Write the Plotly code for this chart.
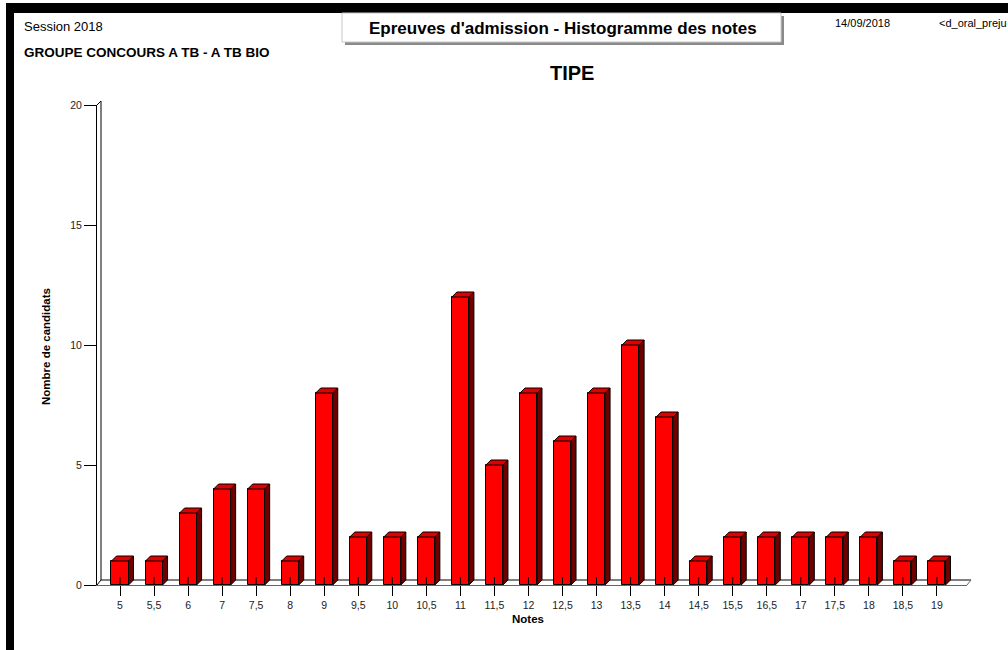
import plotly.graph_objects as go

# notes and number of candidates per note
notes = ['5', '5,5', '6', '7', '7,5', '8', '9', '9,5', '10', '10,5', '11', '11,5', '12',
         '12,5', '13', '13,5', '14', '14,5', '15,5', '16,5', '17', '17,5', '18', '18,5', '19']
candidats = [1, 1, 3, 4, 4, 1, 8, 2, 2, 2, 12, 5, 8, 6, 8, 10, 7, 1, 2, 2, 2, 2, 2, 1, 1]
y_ticks = [0, 5, 10, 15, 20]

W, H = 1008, 650
L, R, T, B = 97, 41, 105, 65
FONT = 'Arial, Liberation Sans, sans-serif'

def px(x):
    return (x - L) / (W - L - R)

def py(y):
    return (H - B - y) / (H - T - B)

idx = list(range(len(notes)))
step = 34.04
xmin = (L - 120) / step
xmax = (W - R - 120) / step
half = 0.25
dx = 5 / step
dy = 5 / 24.0

# 3D side / top faces built from the data
side_x, side_y, top_x, top_y = [], [], [], []
for i, v in zip(idx, candidats):
    side_x += [i + half, i + half + dx, i + half + dx, i + half, i + half, None]
    side_y += [0, dy, v + dy, v, 0, None]
    top_x += [i - half, i - half + dx, i + half + dx, i + half, i - half, None]
    top_y += [v, v + dy, v + dy, v, v, None]

tick_x, tick_y = [], []
for i in idx:
    tick_x += [i, i, None]
    tick_y += [0, 8 / 24.0, None]

fig = go.Figure()
fig.add_trace(go.Bar(x=idx, y=candidats, width=2 * half,
                     marker=dict(color='#ff0000', line=dict(color='black', width=1))))
fig.add_trace(go.Scatter(x=side_x, y=side_y, mode='lines', fill='toself',
                         fillcolor='#6e0000', line=dict(color='black', width=1)))
fig.add_trace(go.Scatter(x=top_x, y=top_y, mode='lines', fill='toself',
                         fillcolor='#e00000', line=dict(color='black', width=1)))
fig.add_trace(go.Scatter(x=tick_x, y=tick_y, mode='lines',
                         line=dict(color='black', width=1)))

shapes = []
# black frame
shapes.append(dict(type='rect', xref='paper', yref='paper', x0=px(6), x1=px(1010),
                   y0=py(3), y1=py(13), fillcolor='black', line=dict(width=0)))
shapes.append(dict(type='rect', xref='paper', yref='paper', x0=px(6), x1=px(14),
                   y0=py(3), y1=py(652), fillcolor='black', line=dict(width=0)))
# header box
shapes.append(dict(type='rect', xref='paper', yref='paper', x0=px(345), x1=px(784),
                   y0=py(16), y1=py(45), fillcolor='#8a8a8a', line=dict(width=0)))
shapes.append(dict(type='rect', xref='paper', yref='paper', x0=px(342), x1=px(781),
                   y0=py(13), y1=py(42), fillcolor='white', line=dict(color='#c8c8c8', width=1)))
# 3D wall and floor (behind the bars)
line = dict(color='black', width=1)
for x0, x1, y0, y1, c in [(101, 101, 580, 101, 'black'), (97, 101, 105, 101, 'black'),
                          (97, 101, 585, 580, 'black'), (101, 971, 580, 580, 'black'),
                          (967, 971, 585, 580, '#666')]:
    shapes.append(dict(type='line', xref='paper', yref='paper', layer='below',
                       x0=px(x0), x1=px(x1), y0=py(y0), y1=py(y1),
                       line=dict(color=c, width=1)))

ann = []
def text(x, y, s, size, bold=False, xanchor='left', angle=0, color='black'):
    if bold:
        s = '<b>' + s + '</b>'
    ann.append(dict(xref='paper', yref='paper', x=px(x), y=py(y), text=s, showarrow=False,
                    xanchor=xanchor, yanchor='middle', textangle=angle,
                    font=dict(family=FONT, size=size, color=color)))

text(22, 27, 'Session 2018', 13)
text(22, 52, 'GROUPE CONCOURS A TB - A TB BIO', 13.5, bold=True)
text(563, 28, "Epreuves d'admission - Histogramme des notes", 17, bold=True, xanchor='center')
text(833, 23, '14/09/2018', 11)
text(937, 23, '<d_oral_preju', 11)
text(572, 73, 'TIPE', 20, bold=True, xanchor='center')
text(46, 347, 'Nombre de candidats', 11.5, bold=True, xanchor='center', angle=-90)
text(528, 619, 'Notes', 11.5, bold=True, xanchor='center')

fig.update_layout(
    width=W, height=H,
    margin=dict(l=L, r=R, t=T, b=B),
    paper_bgcolor='white', plot_bgcolor='white',
    showlegend=False, bargap=0,
    font=dict(family=FONT, size=10, color='#222'),
    shapes=shapes, annotations=ann,
)
fig.update_xaxes(range=[xmin, xmax], tickvals=idx, ticktext=notes, showgrid=False,
                 zeroline=False, showline=True, linecolor='#666', linewidth=1,
                 ticks='outside', ticklen=10, tickcolor='black',
                 tickfont=dict(family=FONT, size=10.5, color='#222'))
fig.update_yaxes(range=[0, 20], tickvals=y_ticks, showgrid=False, zeroline=False,
                 showline=True, linecolor='black', linewidth=1,
                 ticks='outside', ticklen=12, tickcolor='black',
                 tickfont=dict(family=FONT, size=10.5, color='#222'))

fig.write_html('out.html', config={'displayModeBar': False},
               post_script="document.body.style.margin='0px';")
